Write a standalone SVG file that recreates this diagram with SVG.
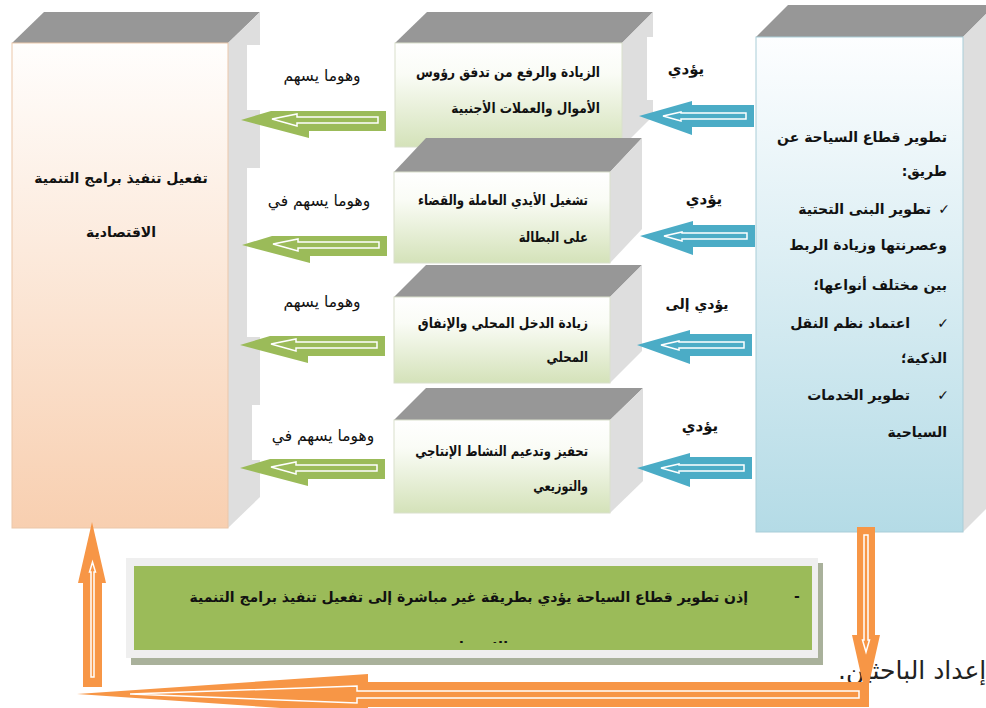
<svg xmlns="http://www.w3.org/2000/svg" width="986" height="708" viewBox="0 0 986 708">
<defs>
<style>
.top{fill:#979797}
.side{fill:#dedede}
.t{font-family:"DejaVu Sans",sans-serif;font-weight:bold;font-size:14px;fill:#111;direction:rtl}
.lbl{font-family:"DejaVu Sans",sans-serif;font-size:15.5px;fill:#111;direction:rtl}
.ga{fill:#9bbb59}
.ba{fill:#4bacc6}
.oa{fill:#f79646}
.inner{fill:none;stroke:#fff;stroke-width:1.5;stroke-linejoin:miter}
</style>
<linearGradient id="gPeach" x1="0" y1="0" x2="0" y2="1"><stop offset="0" stop-color="#fffefd"/><stop offset="1" stop-color="#f8cfb0"/></linearGradient>
<linearGradient id="gGreen" x1="0" y1="0" x2="0" y2="1"><stop offset="0" stop-color="#ffffff"/><stop offset="0.3" stop-color="#fafcf6"/><stop offset="1" stop-color="#d4e2b9"/></linearGradient>
<linearGradient id="gBlue" x1="0" y1="0" x2="0" y2="1"><stop offset="0" stop-color="#fdfeff"/><stop offset="1" stop-color="#b4dbe6"/></linearGradient>
<path id="greenArrow" d="M0,0 L30,-9 L145,-9 L145,11 L68,11 L68,18 Z"/>
<path id="greenInner" d="M31,-1 L56,-6 L56,-3 L137,-3 L137,3 L56,3 L56,6 Z"/>
<path id="blueArrow" d="M0,0 L53,-15 L53,-11 L115,-11 L115,11 L53,11 L53,19 Z"/>
<path id="blueInner" d="M24,0 L42,-4 L42,-3 L107,-3 L107,3 L42,3 L42,5 Z"/>
<clipPath id="clipLine2"><rect x="134" y="566" width="678" height="77"/></clipPath>
</defs>
<rect width="986" height="708" fill="#ffffff"/>

<g id="node-left">
<polygon class="top" points="12,43 44,12 260,12 228,43"/>
<polygon class="side" points="228,43 260,12 260,497 228,528"/>
<rect x="12" y="43" width="216" height="485" fill="url(#gPeach)" stroke="#ebc7aa" stroke-width="1"/>
<text class="t" x="121" y="183" text-anchor="middle">تفعيل تنفيذ برامج التنمية</text>
<text class="t" x="121" y="237" text-anchor="middle">الاقتصادية</text>
</g>

<g id="label-bg">
<rect x="247" y="45" width="146" height="65" fill="#fff"/>
<rect x="247" y="168" width="146" height="169" fill="#fff"/>
<rect x="252" y="405" width="141" height="55" fill="#fff"/>
</g>

<g id="node-m1">
<polygon class="top" points="395,43 427,12 653,12 622,43"/>
<polygon class="side" points="622,43 653,12 653,116 622,147"/>
<rect x="395" y="43" width="227" height="104" fill="url(#gGreen)" stroke="#d9e0cc" stroke-width="1"/>
<text class="t" transform="translate(600,77) scale(0.87,1)" text-anchor="start">الزيادة والرفع من تدفق رؤوس</text>
<text class="t" transform="translate(600,113) scale(0.87,1)" text-anchor="start">الأموال والعملات الأجنبية</text>
</g>
<rect x="647" y="37" width="108" height="63" fill="#fff"/>

<g id="node-m2">
<polygon class="top" points="394,172 426,138 642,138 610,172"/>
<polygon class="side" points="610,172 642,138 642,229 610,263"/>
<rect x="394" y="172" width="216" height="91" fill="url(#gGreen)" stroke="#d9e0cc" stroke-width="1"/>
<text class="t" transform="translate(588,205) scale(0.84,1)" text-anchor="start">تشغيل الأيدي العاملة والقضاء</text>
<text class="t" transform="translate(588,242) scale(0.84,1)" text-anchor="start">على البطالة</text>
</g>

<g id="node-m3">
<polygon class="top" points="394,297 426,265 642,265 610,297"/>
<polygon class="side" points="610,297 642,265 642,351 610,383"/>
<rect x="394" y="297" width="216" height="86" fill="url(#gGreen)" stroke="#d9e0cc" stroke-width="1"/>
<text class="t" transform="translate(588,328) scale(0.87,1)" text-anchor="start">زيادة الدخل المحلي والإنفاق</text>
<text class="t" transform="translate(588,362) scale(0.84,1)" text-anchor="start">المحلي</text>
</g>

<g id="node-m4">
<polygon class="top" points="394,420 426,388 643,388 610,420"/>
<polygon class="side" points="610,420 643,388 643,481 610,513"/>
<rect x="394" y="420" width="216" height="93" fill="url(#gGreen)" stroke="#d9e0cc" stroke-width="1"/>
<text class="t" transform="translate(588,456) scale(0.83,1)" text-anchor="start">تحفيز وتدعيم النشاط الإنتاجي</text>
<text class="t" transform="translate(588,491) scale(0.8,1)" text-anchor="start">والتوزيعي</text>
</g>

<g id="node-right">
<polygon class="top" points="756,37 788,5 995,5 963,37"/>
<polygon class="side" points="963,37 995,5 995,500 963,532"/>
<rect x="756" y="37" width="207" height="495" fill="url(#gBlue)" stroke="#a9cdd8" stroke-width="1"/>
<text class="t" x="947" y="142" text-anchor="start">تطوير قطاع السياحة عن</text>
<text class="t" x="947" y="176" text-anchor="start">طريق:</text>
<text class="t" x="944" y="214" text-anchor="middle">✓</text>
<text class="t" x="931" y="214" text-anchor="start">تطوير البنى التحتية</text>
<text class="t" x="947" y="250" text-anchor="start">وعصرنتها وزيادة الربط</text>
<text class="t" x="947" y="290" text-anchor="start">بين مختلف أنواعها؛</text>
<text class="t" x="943" y="328" text-anchor="middle">✓</text>
<text class="t" x="910" y="328" text-anchor="start">اعتماد نظم النقل</text>
<text class="t" x="947" y="363" text-anchor="start">الذكية؛</text>
<text class="t" x="943" y="400" text-anchor="middle">✓</text>
<text class="t" x="910" y="400" text-anchor="start">تطوير الخدمات</text>
<text class="t" x="947" y="437" text-anchor="start">السياحية</text>
</g>

<g id="node-conclusion">
<rect x="131" y="563" width="692" height="102" fill="#a9b19b"/>
<rect x="126" y="558" width="692" height="100" fill="#efefef"/>
<rect x="134" y="566" width="678" height="84" fill="#9bbb59"/>
<text class="t" x="797" y="601" text-anchor="middle">-</text>
<text class="t" x="748" y="602" text-anchor="start">إذن تطوير قطاع السياحة يؤدي بطريقة غير مباشرة إلى تفعيل تنفيذ برامج التنمية</text>
<text class="t" x="473" y="652" text-anchor="middle" clip-path="url(#clipLine2)">الاقتصادية</text>
</g>

<g id="source">
<text class="lbl" x="838" y="679" text-anchor="end" style="font-size:25px;fill:#222">إعداد الباحثين.</text>
</g>

<g id="labels">
<text class="lbl" x="322" y="81" text-anchor="middle">وهوما يسهم</text>
<text class="lbl" x="319" y="206" text-anchor="middle">وهوما يسهم في</text>
<text class="lbl" x="322" y="307" text-anchor="middle">وهوما يسهم</text>
<text class="lbl" x="323" y="441" text-anchor="middle">وهوما يسهم في</text>
<text class="t" x="686" y="74" text-anchor="middle" style="font-size:15px">يؤدي</text>
<text class="t" x="704" y="204" text-anchor="middle" style="font-size:15px">يؤدي</text>
<text class="t" x="697" y="309" text-anchor="middle" style="font-size:14px">يؤدي إلى</text>
<text class="t" x="700" y="431" text-anchor="middle" style="font-size:15px">يؤدي</text>
</g>

<g id="connectors">
<g transform="translate(241,120)"><use href="#greenArrow" class="ga"/><use href="#greenInner" class="inner"/></g>
<g transform="translate(242,245)"><use href="#greenArrow" class="ga"/><use href="#greenInner" class="inner"/></g>
<g transform="translate(240,345)"><use href="#greenArrow" class="ga"/><use href="#greenInner" class="inner"/></g>
<g transform="translate(240,468)"><use href="#greenArrow" class="ga"/><use href="#greenInner" class="inner"/></g>
<g transform="translate(639,116)"><use href="#blueArrow" class="ba"/><use href="#blueInner" class="inner"/></g>
<g transform="translate(640,236)"><use href="#blueArrow" class="ba"/><use href="#blueInner" class="inner"/></g>
<g transform="translate(637,345)"><use href="#blueArrow" class="ba"/><use href="#blueInner" class="inner"/></g>
<g transform="translate(637,468)"><use href="#blueArrow" class="ba"/><use href="#blueInner" class="inner"/></g>
<path class="oa" d="M869,682 L869,707 L368,707 L368,714 L77,694 L368,674 L368,682 Z"/>
<path class="inner" d="M859,691 L859,698 L357,698 L357,703 L130,694 L357,686 L357,691 Z"/>
<path class="oa" d="M857,527 L875,527 L875,635 L880,635 L866,697 L852,635 L857,635 Z"/>
<path class="inner" stroke-width="1.2" d="M864,535 L868,535 L868,640 L869.5,640 L866,652 L862.5,640 L864,640 Z"/>
<path class="oa" d="M83,687 L102,687 L102,583 L106,583 L92,522 L78,583 L83,583 Z"/>
<path class="inner" stroke-width="1.2" d="M91,677 L94,677 L94,572 L95.5,572 L92.5,562 L89.5,572 L91,572 Z"/>
</g>
</svg>
